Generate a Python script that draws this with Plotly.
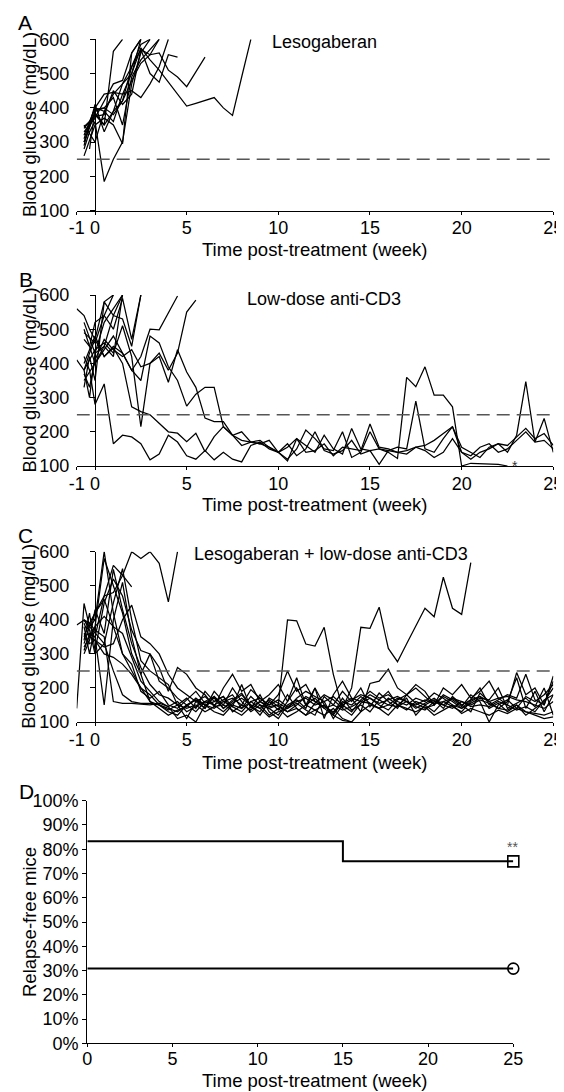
import plotly.graph_objects as go

# The page places the figure 8 px in from the top-left corner of the window.
PAGE_W, PAGE_H = 564, 1092
OFF = 8
W, H = PAGE_W - OFF, PAGE_H - OFF
FONT = "Liberation Sans, Arial, Helvetica, sans-serif"

# ---------------- shared time grid (weeks post-treatment) ----------------
TIME = [-1.0, -0.6, -0.3,
        0.0, 0.5, 1.0, 1.5, 2.0, 2.5, 3.0, 3.5, 4.0, 4.5,
        5.0, 5.5, 6.0, 6.5, 7.0, 7.5, 8.0, 8.5, 9.0, 9.5,
        10.0, 10.5, 11.0, 11.5, 12.0, 12.5, 13.0, 13.5, 14.0, 14.5,
        15.0, 15.5, 16.0, 16.5, 17.0, 17.5, 18.0, 18.5, 19.0, 19.5,
        20.0, 20.5, 21.0, 21.5, 22.0, 22.5, 23.0, 23.5, 24.0, 24.5,
        25.0]

THRESHOLD = 250
X_TICKS = [-1, 0, 5, 10, 15, 20, 25]
X_TICK_TEXT = ["-1", "0", "5", "10", "15", "20", "25"]
Y_TICKS = [100, 200, 300, 400, 500, 600]

# ---------------- Panel A: Lesogaberan ----------------
A1 = [None, 310, None, 400, 390, 440, 470, 500, 575, 540, 510, 475, 440, 405, 413, 422, 430, 400, 378, 490, 600]
A2 = [None, 340, None, 380, 350, 390, 420, 480, 530, 555, 560, 510, 490, 462, 505, 548]
A3 = [None, 300, None, 385, 350, 565, 600]
A4 = [None, 280, 330, 360, 185, 250, 300, 470, 560, 600]
A5 = [None, 320, None, 400, 440, 445, 440, 450, 430, 470, 520, 600]
A6 = [None, 260, None, 350, 370, 350, 295, 560, 600]
A7 = [None, 300, None, 390, 400, 380, 420, 520, 570, 500, 475, 555, 548]
A8 = [None, 350, None, 300, 390, 360, 440, 500, 600]
A9 = [None, 330, None, 370, 420, 470, 480, 560, 600]
A10 = [None, 290, None, 410, 330, 390, 470, 520, 585, 600]
A11 = [None, None, 280, 395, 400, 430, 350, 490, 540, 570, 600]
A12 = [None, 345, None, 375, 380, 450, 410, 440, 570, 555, 600]
PANEL_A = [A1, A2, A3, A4, A5, A6, A7, A8, A9, A10, A11, A12]

# ---------------- Panel B: low-dose anti-CD3 ----------------
B1 = [560, 540, 500, 470, 580, 600]
B2 = [410, 380, 300, 430, 520, 560, 600]
B3 = [None, 470, 450, 520, 540, 500, 590, 470, 600]
B4 = [None, 350, None, 400, 450, 540, 530, 450, 600]
B5 = [None, 520, None, 430, 450, 420, 600]
B6 = [None, 400, None, 480, 420, 450, 430, 380, 420, 500, 498, 546, 597]
B7 = [None, 380, None, 440, 460, 430, 510, 420, 215, 400, 430, 380, 430, 550, 585]
B8 = [None, 330, 420, 350, 580, 540, 600]
B9 = [None, 490, None, 460, 540, 600]
BL1 = [None, 420, 380,
       280, 340, 165, 190, 185, 165, 118, 135, 190, 170,
       130, 120, 145, 118, 140, 120, 112, 160, 170, 150,
       140, 120, 150, 205, 180, 150, 145, 200, 125, 140,
       200, 150, 145, 155, 150, 290, 150, 140, 180, 215,
       140, 130, 155, 165, 140, 150, 175, 200, 170, 175,
       150]
BL2 = [None, 380, 430,
       470, 420, 445, 400, 273, 259, 250, 225, 200, 196,
       171, 196, 142, 186, 215, 190, 175, 170, 165, 155,
       140, 165, 130, 150, 200, 145, 135, 145, 175, 135,
       145, 105, 145, 140, 135, 155, 145, 125, 140, 180,
       140, 120, 140, 150, 165, 160, 185, 210, 180, 195,
       160]
BL3 = [None, 500, 450,
       400, 440, 480, 430, 380, 350, 480, 460, 390, 350,
       275, 310, 330, 330, 215, 190, 200, 170, 165, 175,
       140, 155, 180, 160, 140, 190, 150, 135, 210, 150,
       145, 150, 140, 122, 359, 332, 390, 307, 307, 273,
       100, 108, 107, 106, 105, 100]
BL4 = [None, 370, 330,
       410, 470, 440, 420, 440, 390, 400, 420, 345, 440,
       375, 330, 240, 230, 230, 190, 160, 170, 175, 155,
       140, 115, 180, 140, 145, 165, 130, 155, 150, 145,
       223, 155, 150, 140, 145, 155, 160, 175, 195, 215,
       155, 140, 125, 155, 165, 140, 190, 347, 170, 239,
       140]
PANEL_B = [B1, B2, B3, B4, B5, B6, B7, B8, B9, BL1, BL2, BL3, BL4]

# ---------------- Panel C: Lesogaberan + low-dose anti-CD3 ----------------
CN1 = [None, 330, 380, 420, 470, 480, 530, 600, 580, 600, 566, 453, 600]
CN2 = [None, 360, None, 350, 470, 560, 531, 497]
CR = [385, 399, 380,
      360, 330, 250, 180, 160, 155, 155, 150, 140, 130,
      150, 165, 150, 140, 160, 170, 150, 135, 160, 145,
      150, 400, 397, 329, 323, 378, 240, 140, 200, 378,
      375, 437, 316, 277, 330, 380, 434, 409, 525, 434,
      416, 568]
C1 = [140, 448, 380,
      400, 600, 420, 300, 250, 200, 160, 150, 130, 120,
      150, 165, 140, 175, 150, 200, 160, 130, 150, 140,
      120, 160, 200, 150, 170, 140, 120, 160, 150, 175,
      155, 140, 170, 150, 135, 160, 150, 130, 160, 145,
      130, 160, 175, 140, 155, 130, 150, 120, 140, 160,
      200]
C2 = [None, 400, 390,
      370, 350, 160, 155, 155, 152, 150, 155, 145, 160,
      130, 145, 160, 150, 130, 155, 170, 150, 140, 165,
      145, 130, 150, 175, 160, 145, 130, 155, 170, 160,
      180, 165, 150, 145, 160, 140, 155, 170, 150, 140,
      160, 150, 165, 155, 140, 135, 150, 130, 120, 110,
      115]
C3 = [None, 300, 340,
      430, 360, 548, 430, 330, 260, 210, 180, 170, 150,
      110, 160, 140, 190, 160, 145, 210, 140, 180, 130,
      110, 150, 165, 140, 200, 150, 125, 170, 135, 150,
      130, 165, 190, 150, 170, 120, 150, 165, 140, 175,
      150, 130, 185, 160, 140, 160, 230, 140, 190, 130,
      180]
C4 = [None, 340, 420,
      310, 450, 520, 470, 370, 310, 300, 220, 200, 170,
      150, 130, 160, 175, 140, 160, 180, 150, 120, 160,
      135, 180, 140, 120, 155, 180, 165, 140, 120, 155,
      170, 150, 135, 165, 180, 155, 140, 150, 175, 160,
      140, 165, 200, 150, 165, 180, 170, 240, 165, 150,
      220]
C5 = [None, 380, 300,
      380, 410, 380, 360, 290, 220, 190, 160, 145, 110,
      120, 100, 150, 130, 120, 150, 140, 175, 150, 120,
      140, 115, 130, 150, 135, 120, 140, 110, 100, 130,
      150, 140, 120, 150, 140, 130, 145, 120, 135, 150,
      125, 140, 130, 120, 135, 125, 140, 130, 125, 120,
      130]
C6 = [None, 360, 330,
      340, 320, 330, 400, 443, 350, 330, 300, 240, 200,
      180, 160, 175, 150, 165, 180, 140, 160, 170, 150,
      165, 145, 160, 170, 150, 160, 175, 150, 165, 180,
      170, 155, 165, 175, 160, 150, 165, 155, 160, 170,
      150, 165, 175, 160, 170, 175, 165, 160, 150, 140,
      160]
C7 = [None, 320, 350,
      380, 580, 500, 420, 300, 240, 300, 260, 190, 260,
      240, 200, 180, 145, 200, 240, 190, 210, 160, 180,
      210, 160, 230, 150, 200, 110, 180, 220, 170, 130,
      213, 220, 255, 200, 180, 210, 190, 150, 200, 180,
      210, 170, 190, 220, 170, 150, 245, 180, 200, 150,
      235]
C8 = [None, 400, 370,
      300, 330, 450, 550, 400, 280, 250, 230, 210, 150,
      170, 140, 190, 160, 175, 130, 150, 195, 170, 150,
      180, 250, 190, 210, 160, 140, 150, 190, 160, 200,
      145, 185, 160, 140, 180, 200, 175, 150, 180, 165,
      145, 180, 160, 100, 150, 165, 140, 175, 160, 180,
      210]
C9 = [None, 350, 390,
      420, 460, 380, 300, 270, 190, 170, 190, 150, 140,
      165, 190, 155, 170, 140, 165, 185, 145, 130, 170,
      155, 140, 170, 190, 175, 160, 110, 150, 130, 165,
      190, 170, 180, 160, 150, 170, 160, 185, 170, 150,
      140, 155, 170, 165, 200, 140, 155, 170, 145, 200,
      120]
C10 = [None, 310, 360,
       350, 150, 400, 510, 350, 240, 160, 140, 120, 135,
       145, 170, 150, 160, 175, 145, 130, 160, 140, 115,
       130, 140, 155, 135, 120, 175, 150, 135, 145, 160,
       155, 140, 150, 170, 160, 145, 135, 160, 150, 170,
       160, 145, 150, 145, 160, 150, 135, 145, 130, 165,
       180]
C11 = [None, 390, 350,
       340, 300, 290, 270, 240, 200, 180, 150, 135, 150,
       140, 150, 130, 145, 150, 135, 120, 145, 160, 140,
       150, 130, 140, 120, 135, 150, 120, 105, 100]
PANEL_C = [CN1, CN2, CR, C1, C2, C3, C4, C5, C6, C7, C8, C9, C10, C11]

# ---------------- Panel D: relapse-free mice ----------------
D_TIME = [0, 15, 25]
D_COMBO = [0.833, 0.75, 0.75]   # Lesogaberan + low-dose anti-CD3
D_ANTI = [0.308, 0.308, 0.308]  # low-dose anti-CD3
D_X_TICKS = [0, 5, 10, 15, 20, 25]
D_Y_TICKS = [0, 0.1, 0.2, 0.3, 0.4, 0.5, 0.6, 0.7, 0.8, 0.9, 1.0]


def px_x(p):
    """page pixel x -> paper fraction"""
    return (p - OFF) / W


def px_y(p):
    """page pixel y (from top) -> paper fraction"""
    return 1 - (p - OFF) / H


fig = go.Figure()

panels = [(PANEL_A, "x", "y"), (PANEL_B, "x2", "y2"), (PANEL_C, "x3", "y3")]
for data, xa, ya in panels:
    for vals in data:
        fig.add_trace(go.Scatter(
            x=TIME[:len(vals)], y=vals, mode="lines", connectgaps=True,
            line=dict(color="black", width=1.25), xaxis=xa, yaxis=ya,
            hoverinfo="skip"))

# Panel D step lines + end markers
for vals, sym in [(D_COMBO, "square-open"), (D_ANTI, "circle-open")]:
    fig.add_trace(go.Scatter(
        x=D_TIME, y=vals, mode="lines", line=dict(color="black", width=2, shape="hv"),
        xaxis="x4", yaxis="y4", hoverinfo="skip"))
    fig.add_trace(go.Scatter(
        x=D_TIME[-1:], y=vals[-1:], mode="markers", cliponaxis=False,
        marker=dict(symbol=sym, size=11, color="black", line=dict(color="black", width=1.6)),
        xaxis="x4", yaxis="y4", hoverinfo="skip"))

# ---------------- axes ----------------
common = dict(showgrid=False, zeroline=False, showline=True, linecolor="black",
              linewidth=1.2, ticks="outside", tickcolor="black", tickwidth=1.2,
              automargin=False,
              tickfont=dict(size=18, color="black", family=FONT))

# pixel geometry of panels A-C (top, bottom of y in page px)
ydoms = [(39.3, 210.7), (295.0, 466.0), (551.7, 722.0)]
layout = {}
for i, (top, bot) in enumerate(ydoms, start=1):
    sx = "" if i == 1 else str(i)
    layout["xaxis" + sx] = dict(common, domain=[px_x(76.7), px_x(553.3)], range=[-1, 25],
                                tickmode="array", tickvals=X_TICKS, ticktext=X_TICK_TEXT,
                                ticklen=3, anchor="y" + sx, ticklabelstandoff=-2)
    layout["yaxis" + sx] = dict(common, domain=[px_y(bot), px_y(top)], range=[100, 600],
                                tickmode="array", tickvals=Y_TICKS, ticklen=5,
                                anchor="free", position=px_x(95.0), ticklabelstandoff=17)

layout["xaxis4"] = dict(common, domain=[px_x(87.3), px_x(513.3)], range=[0, 25],
                        tickmode="array", tickvals=D_X_TICKS, ticklen=3, anchor="y4",
                        ticklabelstandoff=-4)
layout["yaxis4"] = dict(common, domain=[px_y(1043.3), px_y(800.7)], range=[0, 1],
                        tickmode="array", tickvals=D_Y_TICKS, tickformat=".0%",
                        ticklen=4, anchor="x4")

fig.update_layout(**layout)

# threshold dashed lines
shapes = []
for sx in ["", "2", "3"]:
    shapes.append(dict(type="line", xref="x" + sx, yref="y" + sx, x0=X_TICKS[0], x1=X_TICKS[-1],
                       y0=THRESHOLD, y1=THRESHOLD,
                       line=dict(color="#555555", width=1.5, dash="13px,7px")))

# ---------------- annotations ----------------
ann = []


def add_text(text, x, y, size=18, xanchor="center", angle=0, color="black"):
    ann.append(dict(text=text, x=px_x(x), y=px_y(y), xref="paper", yref="paper",
                    xanchor=xanchor, yanchor="middle", showarrow=False, textangle=angle,
                    font=dict(size=size, color=color, family=FONT)))


for letter, (lx, ly) in zip("ABCD", [(25, 22), (25.5, 279), (25.5, 535), (26.5, 791)]):
    add_text(letter, lx, ly, size=21)

add_text("Lesogaberan", 270, 42, xanchor="left")
add_text("Low-dose anti-CD3", 245, 299, xanchor="left")
add_text("Lesogaberan + low-dose anti-CD3", 192, 554, xanchor="left")

for yc in [250, 505, 762, 1080]:
    add_text("Time post-treatment (week)", 315, yc, size=18.5)

for (top, bot) in ydoms:
    add_text("Blood glucose (mg/dL)", 29, (top + bot) / 2, size=18.5, angle=-90)
add_text("Relapse-free mice", 29, 922, size=18.5, angle=-90)

add_text("*", 515, 466, size=14, color="#333333")
add_text("**", 512, 847, size=14, color="#555555")

fig.update_layout(
    width=W, height=H, margin=dict(l=0, r=0, t=0, b=0),
    paper_bgcolor="white", plot_bgcolor="white", showlegend=False,
    font=dict(family=FONT, color="black"),
    shapes=shapes, annotations=ann,
)

fig.write_html("out.html")
